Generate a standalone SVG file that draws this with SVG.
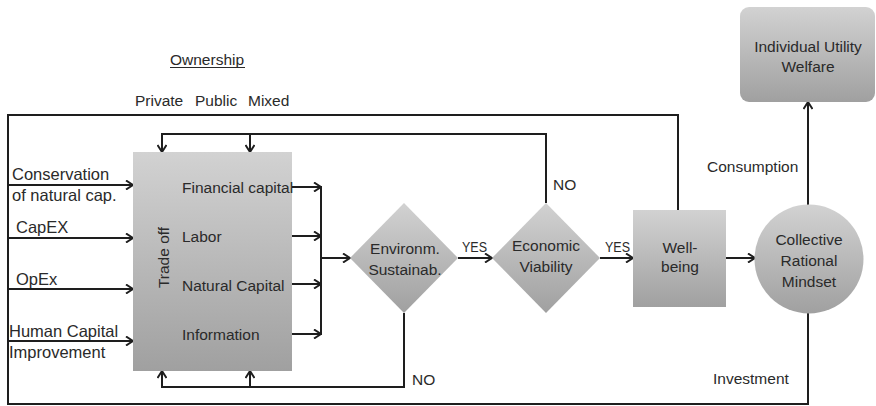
<svg xmlns="http://www.w3.org/2000/svg" width="876" height="406" viewBox="0 0 876 406">
  <defs>
    <linearGradient id="grayFill" x1="0" y1="0" x2="0" y2="1">
      <stop offset="0" stop-color="#d2d2d2"/>
      <stop offset="1" stop-color="#a0a0a0"/>
    </linearGradient>
    <marker id="arrow" viewBox="0 0 10 10" refX="9" refY="5" markerWidth="10" markerHeight="10" markerUnits="userSpaceOnUse" orient="auto">
      <path d="M2,0.5 L9,5 L2,9.5" fill="none" stroke="#1e1e1e" stroke-width="2"/>
    </marker>
    <style>
      text { font-family: "Liberation Sans", Arial, sans-serif; font-size: 15.5px; fill: #2a2a2a; }
      .side { font-size: 16.5px; }
      .mid { text-anchor: middle; }
      .shape { fill: url(#grayFill); }
      .wire { fill: none; stroke: #1e1e1e; stroke-width: 2; }
      .arr { marker-end: url(#arrow); }
    </style>
  </defs>

  <rect width="876" height="406" fill="#ffffff"/>

  <!-- ownership heading -->
  <g id="ownership">
    <text x="170" y="65">Ownership</text>
    <line x1="170" y1="67.5" x2="245" y2="67.5" stroke="#2a2a2a" stroke-width="1.2"/>
    <text x="135" y="106">Private</text>
    <text x="195" y="106">Public</text>
    <text x="248" y="106">Mixed</text>
  </g>

  <!-- connectors -->
  <g id="connectors">
    <!-- outer loop: well-being back to the inputs, investment back along the bottom -->
    <polyline class="wire" points="678,210 678,115 8,115 8,404 808,404 808,313"/>
    <!-- inputs -->
    <line class="wire arr" x1="8" y1="185" x2="133" y2="185"/>
    <line class="wire arr" x1="8" y1="238" x2="133" y2="238"/>
    <line class="wire arr" x1="8" y1="289" x2="133" y2="289"/>
    <line class="wire arr" x1="8" y1="341" x2="133" y2="341"/>
    <!-- NO from economic viability -->
    <polyline class="wire" points="546,203 546,134 162,134"/>
    <line class="wire arr" x1="162" y1="133" x2="162" y2="152"/>
    <line class="wire arr" x1="250" y1="134" x2="250" y2="152"/>
    <!-- NO from environmental sustainability -->
    <polyline class="wire" points="404,313 404,387 162,387"/>
    <line class="wire arr" x1="162" y1="388" x2="162" y2="371"/>
    <line class="wire arr" x1="250" y1="387" x2="250" y2="371"/>
    <!-- resource outputs to collector -->
    <line class="wire arr" x1="292" y1="187" x2="321" y2="187"/>
    <line class="wire arr" x1="292" y1="236" x2="321" y2="236"/>
    <line class="wire arr" x1="292" y1="284" x2="321" y2="284"/>
    <line class="wire arr" x1="292" y1="334" x2="321" y2="334"/>
    <line class="wire" x1="321" y1="186" x2="321" y2="335"/>
    <line class="wire arr" x1="321" y1="258" x2="350" y2="258"/>
    <!-- decisions -->
    <line class="wire arr" x1="458" y1="258" x2="492" y2="258"/>
    <line class="wire arr" x1="600" y1="258" x2="633" y2="258"/>
    <line class="wire arr" x1="726" y1="258" x2="755" y2="258"/>
    <line class="wire arr" x1="808" y1="205" x2="808" y2="102"/>
  </g>

  <!-- connector labels -->
  <g id="labels">
    <text x="462" y="252" font-size="14" textLength="25" lengthAdjust="spacingAndGlyphs">YES</text>
    <text x="605" y="252" font-size="14" textLength="25" lengthAdjust="spacingAndGlyphs">YES</text>
    <text x="553" y="190" font-size="14.5">NO</text>
    <text x="412" y="385" font-size="14.5">NO</text>
    <text x="707" y="172">Consumption</text>
    <text x="713" y="384">Investment</text>
  </g>

  <!-- input labels -->
  <g id="inputs">
    <text class="side" x="12" y="180">Conservation</text>
    <text class="side" x="12" y="201">of natural cap.</text>
    <text class="side" x="16" y="233">CapEX</text>
    <text class="side" x="16" y="285">OpEx</text>
    <text class="side" x="9" y="337">Human Capital</text>
    <text class="side" x="9" y="358">Improvement</text>
  </g>

  <g id="trade-off">
    <rect class="shape" x="133" y="152" width="159" height="219"/>
    <text class="mid" transform="translate(169,257.5) rotate(-90)">Trade off</text>
    <text x="182" y="193">Financial capital</text>
    <text x="182" y="242">Labor</text>
    <text x="182" y="291">Natural Capital</text>
    <text x="182" y="340">Information</text>
  </g>

  <g id="environmental-sustainability">
    <polygon class="shape" points="404,203 458,258 404,313 350,258"/>
    <text class="mid" x="405" y="254" font-size="16">Environm.</text>
    <text class="mid" x="405" y="275" font-size="16">Sustainab.</text>
  </g>

  <g id="economic-viability">
    <polygon class="shape" points="546,203 600,258 546,313 492,258"/>
    <text class="mid" x="546" y="251" font-size="16">Economic</text>
    <text class="mid" x="546" y="272" font-size="16">Viability</text>
  </g>

  <g id="well-being">
    <rect class="shape" x="633" y="210" width="93" height="97"/>
    <text class="mid" x="680" y="253">Well-</text>
    <text class="mid" x="680" y="272">being</text>
  </g>

  <g id="collective-mindset">
    <circle class="shape" cx="809" cy="259" r="54.5"/>
    <text class="mid" x="809" y="245">Collective</text>
    <text class="mid" x="809" y="266">Rational</text>
    <text class="mid" x="809" y="287">Mindset</text>
  </g>

  <g id="individual-utility">
    <rect class="shape" x="740" y="7" width="135" height="95" rx="9" ry="9"/>
    <text class="mid" x="808" y="52">Individual Utility</text>
    <text class="mid" x="808" y="72">Welfare</text>
  </g>
</svg>
